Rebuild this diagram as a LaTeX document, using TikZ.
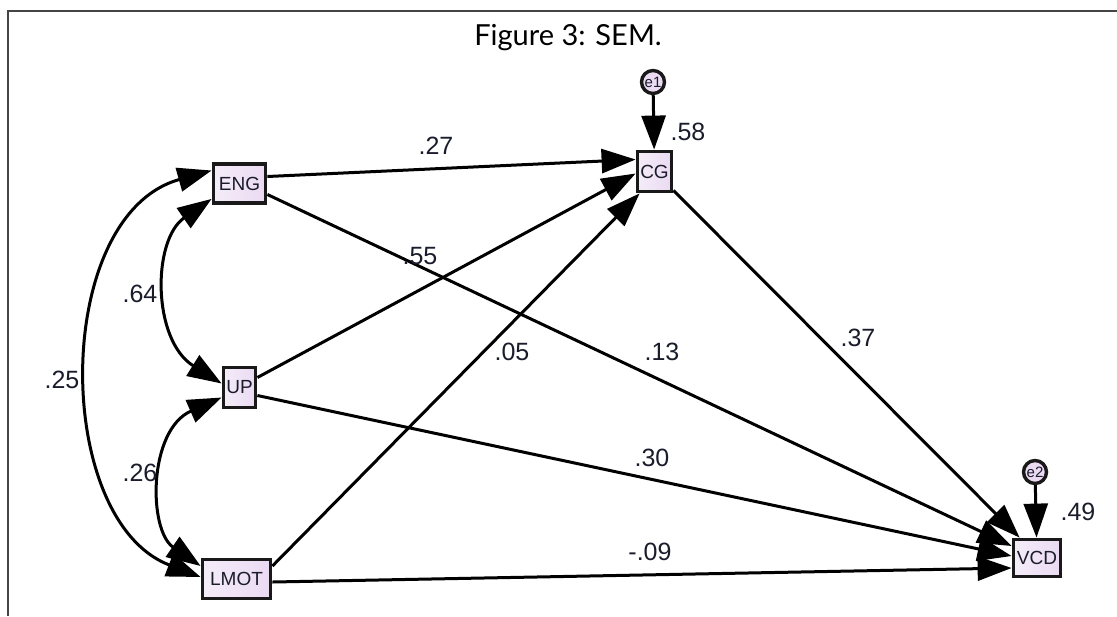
\documentclass[tikz,border=0pt]{standalone}
\usepackage{fontspec}
\setmainfont{Liberation Sans}
\newfontfamily\titlefont{Lato}
\usetikzlibrary{arrows.meta,calc}
\definecolor{boxfill}{HTML}{EADAF2}
\definecolor{labtext}{HTML}{1A1C2C}
\definecolor{framecol}{HTML}{444444}
\begin{document}
\begin{tikzpicture}[x=0.5pt,y=-0.5pt,
  var/.style={draw=black!90, line width=1.9pt, left color=boxfill!50!white, right color=boxfill, inner sep=0pt,
    font=\fontsize{9.5}{10}\selectfont, text=labtext},
  err/.style={circle, draw=black!90, line width=1.7pt, fill=boxfill, inner sep=0pt, minimum size=11.5pt,
    font=\fontsize{7.5}{8}\selectfont, text=labtext},
  arr/.style={line width=1.5pt, -{Triangle[length=17pt,width=12pt]}},
  dbl/.style={line width=1.5pt, {Triangle[length=17pt,width=12pt]}-{Triangle[length=17pt,width=12pt]}},
  coef/.style={font=\fontsize{12.5}{13}\selectfont, text=labtext, inner sep=0pt},
  ttl/.style={font=\titlefont\fontsize{14.5}{16}\selectfont, inner sep=0pt}]
\useasboundingbox (0,0) rectangle (1117,616);
% frame
\draw[framecol, line width=1.1pt] (1117,11) -- (8,11) -- (8,616);
\node[ttl] (title) at (568,38) {Figure 3: SEM.};

% variables
\node[var, minimum width=26pt, minimum height=19.5pt] (ENG) at (239.5,183.5) {ENG};
\node[var, minimum width=17pt, minimum height=20pt] (CG) at (654.5,171.5) {CG};
\node[var, minimum width=16pt, minimum height=20pt] (UP) at (239.5,387.5) {UP};
\node[var, minimum width=34pt, minimum height=19.5pt] (LMOT) at (236.5,579) {LMOT};
\node[var, minimum width=23.5pt, minimum height=18.5pt] (VCD) at (1037,558) {VCD};
\node[err] (e1) at (653,82) {e1};
\node[err] (e2) at (1035,472) {e2};

% paths
\draw[arr] (e1) -- (CG);
\draw[arr] (e2) -- (VCD);
\draw[arr] ($(ENG.east)+(0,-7)$) -- ($(CG.west)+(0,-12)$);
\draw[arr] ($(UP.east)+(0,-10)$) -- ($(CG.west)+(0,2)$);
\draw[arr] ($(LMOT.east)+(0,-13)$) -- ($(CG.south west)+(4,0)$);
\draw[arr] ($(ENG.east)+(0,11)$) -- ($(VCD.west)+(0,-12)$);
\draw[arr] ($(UP.east)+(0,8)$) -- ($(VCD.west)+(0,-2)$);
\draw[arr] ($(LMOT.east)+(0,3)$) -- ($(VCD.west)+(0,10)$);
\draw[arr] ($(CG.south east)+(0,-3)$) -- ($(VCD.north west)+(8,0)$);

% covariances
\draw[dbl] ($(ENG.south west)+(0,-6)$) .. controls (152,240) and (152,340) .. ($(UP.west)+(0,-4)$);
\draw[dbl] ($(UP.west)+(0,10)$) .. controls (148,430) and (148,530) .. ($(LMOT.west)+(0,-13)$);
\draw[dbl] ($(ENG.west)+(0,-13)$) .. controls (52,215) and (52,520) .. ($(LMOT.west)+(0,-2)$);

% coefficients
\node[coef] (c27) at (436,146) {.27};
\node[coef] (c55) at (420,256) {.55};
\node[coef] (c05) at (512,352) {.05};
\node[coef] (c13) at (662,352) {.13};
\node[coef] (c37) at (858,338) {.37};
\node[coef] (c30) at (652,458) {.30};
\node[coef] (c09) at (650,552) {-.09};
\node[coef] (c64) at (140,294) {.64};
\node[coef] (c25) at (62,380) {.25};
\node[coef] (c26) at (140,473) {.26};
\node[coef] (c58) at (688,132) {.58};
\node[coef] (c49) at (1078,512) {.49};
\end{tikzpicture}
\end{document}
